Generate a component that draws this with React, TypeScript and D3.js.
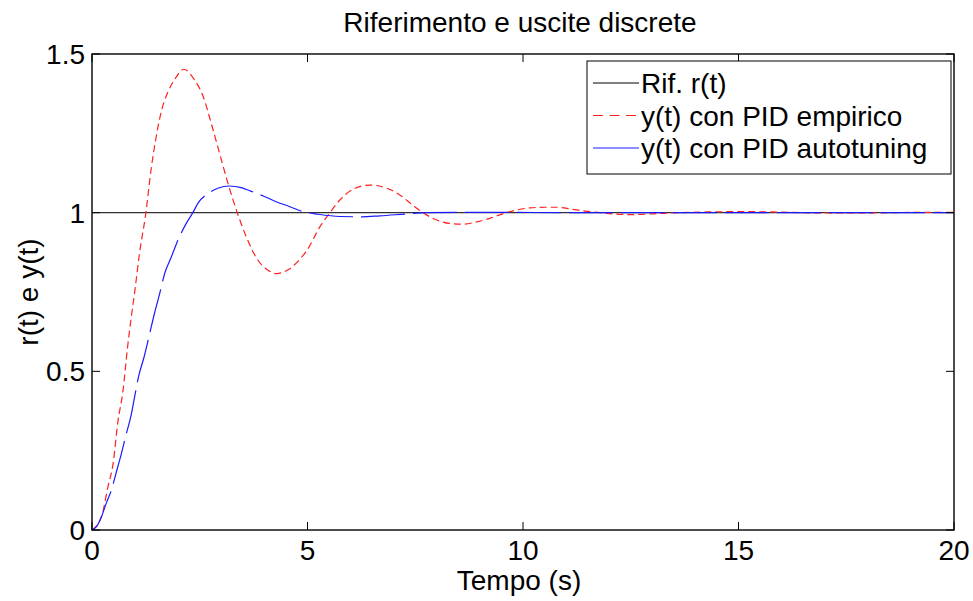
import React from "react";
import * as d3 from "d3";

// values
const redTimes = [0, 0.22, 0.37, 0.49, 0.6, 0.72, 0.82, 0.91, 1.0, 1.1, 1.24, 1.38, 1.49, 1.61, 1.76, 1.92, 2.13, 2.38, 2.58, 2.77, 2.96, 3.16, 3.37, 3.58, 3.85, 4.05, 4.28, 4.55, 4.8, 4.98, 5.29, 5.52, 5.75, 6.06, 6.45, 6.84, 7.15, 7.42, 7.7, 8.0, 8.3, 8.61, 8.93, 9.23, 9.54, 9.81, 10.16, 10.5, 10.8, 11.13, 11.44, 11.79, 12.1, 12.48, 12.8, 13.1, 13.6, 14.2, 14.8, 15.3, 15.9, 16.5, 17.2, 17.8, 18.5, 19.2, 20];
const redValues = [0, 0.042, 0.136, 0.21, 0.34, 0.44, 0.57, 0.67, 0.76, 0.87, 0.99, 1.145, 1.24, 1.32, 1.38, 1.42, 1.452, 1.418, 1.366, 1.28, 1.187, 1.09, 1.0, 0.924, 0.85, 0.822, 0.808, 0.82, 0.85, 0.88, 0.956, 1.0, 1.04, 1.074, 1.087, 1.077, 1.055, 1.026, 0.998, 0.977, 0.966, 0.964, 0.971, 0.982, 0.997, 1.007, 1.015, 1.017, 1.017, 1.011, 1.005, 1.0, 0.996, 0.994, 0.995, 0.997, 1.0, 1.002, 1.003, 1.003, 1.002, 1.0, 0.999, 0.999, 1.0, 1.001, 1.001];

const blueTimes = [0, 0.1, 0.22, 0.33, 0.45, 0.56, 0.68, 0.8, 0.9, 0.99, 1.08, 1.21, 1.34, 1.45, 1.57, 1.69, 1.84, 2.0, 2.19, 2.34, 2.46, 2.69, 2.92, 3.19, 3.46, 3.66, 4.0, 4.3, 4.55, 4.9, 5.25, 5.75, 6.26, 6.68, 7.3, 7.76, 8.5, 9.5, 11, 13, 15, 17, 20];
const blueValues = [0, 0.01, 0.042, 0.084, 0.126, 0.18, 0.24, 0.305, 0.357, 0.42, 0.483, 0.546, 0.62, 0.683, 0.745, 0.81, 0.86, 0.915, 0.967, 1.0, 1.03, 1.06, 1.077, 1.084, 1.079, 1.069, 1.051, 1.033, 1.021, 1.003, 0.995, 0.988, 0.987, 0.99, 0.996, 1.0, 1.001, 1.001, 1.0, 1.0, 1.0, 1.0, 1.0];

const refTimes = [0, 20];
const refValues = [1, 1];

const xTicks = [0, 5, 10, 15, 20];
const yTicks = [0, 0.5, 1, 1.5];
const legendLabels = ["Rif. r(t)", "y(t) con PID empirico", "y(t) con PID autotuning"];

const font = "'Liberation Sans', Arial, Helvetica, sans-serif";

const App = () => {
  const left = 92, right = 954, top = 54, bottom = 530;
  const x = d3.scaleLinear().domain([0, 20]).range([left, right]);
  const y = d3.scaleLinear().domain([0, 1.5]).range([bottom, top]);

  const line = d3
    .line<[number, number]>()
    .x(d => x(d[0]))
    .y(d => y(d[1]))
    .curve(d3.curveMonotoneX);

  const zip = (ts: number[], vs: number[]) => ts.map((t, i) => [t, vs[i]] as [number, number]);

  const tickLen = 8;
  const fs = 28;

  return (
    <svg width={973} height={601} style={{ position: "absolute", left: 0, top: 0, background: "#fff" }}
      fontFamily={font}>
      <rect x={0} y={0} width={973} height={601} fill="#fff" />
      <text x={520} y={32} fontSize={fs} textAnchor="middle">Riferimento e uscite discrete</text>

      {/* data */}
      <path d={line(zip(refTimes, refValues)) || ""} fill="none" stroke="#333" strokeWidth={1.2} />
      <path d={line(zip(redTimes, redValues)) || ""} fill="none" stroke="#ff2020" strokeWidth={1.2} strokeDasharray="7 4" />
      <path d={line(zip(blueTimes, blueValues)) || ""} fill="none" stroke="#1a1aff" strokeWidth={1.2} strokeDasharray="44 8" />

      {/* box + ticks */}
      <rect x={left} y={top} width={right - left} height={bottom - top} fill="none" stroke="#000" strokeWidth={1.4} />
      {xTicks.map(t => (
        <g key={"x" + t}>
          <line x1={x(t)} x2={x(t)} y1={bottom} y2={bottom - tickLen} stroke="#000" strokeWidth={1} />
          <line x1={x(t)} x2={x(t)} y1={top} y2={top + tickLen} stroke="#000" strokeWidth={1} />
          <text x={x(t)} y={560} fontSize={fs} textAnchor="middle">{t}</text>
        </g>
      ))}
      {yTicks.map(v => (
        <g key={"y" + v}>
          <line x1={left} x2={left + tickLen} y1={y(v)} y2={y(v)} stroke="#000" strokeWidth={1} />
          <line x1={right} x2={right - tickLen} y1={y(v)} y2={y(v)} stroke="#000" strokeWidth={1} />
          <text x={85} y={y(v) + 10} fontSize={fs} textAnchor="end">{v}</text>
        </g>
      ))}

      <text x={519} y={590} fontSize={fs} textAnchor="middle">Tempo (s)</text>
      <text transform={`translate(38, ${(top + bottom) / 2}) rotate(-90)`} fontSize={fs} textAnchor="middle">r(t) e y(t)</text>

      {/* legend */}
      <rect x={587} y={61} width={364} height={113} fill="#fff" stroke="#000" strokeWidth={1} />
      {legendLabels.map((label, i) => {
        const cy = 83 + i * 32.5;
        const stroke = i === 0 ? "#000" : i === 1 ? "#ff2020" : "#1a1aff";
        return (
          <g key={label}>
            <line x1={593} x2={639} y1={cy} y2={cy} stroke={stroke} strokeWidth={1}
              strokeDasharray={i === 1 ? "10 6.5" : undefined} />
            <text x={641} y={cy + 10} fontSize={fs}>{label}</text>
          </g>
        );
      })}
    </svg>
  );
};

export default App;
